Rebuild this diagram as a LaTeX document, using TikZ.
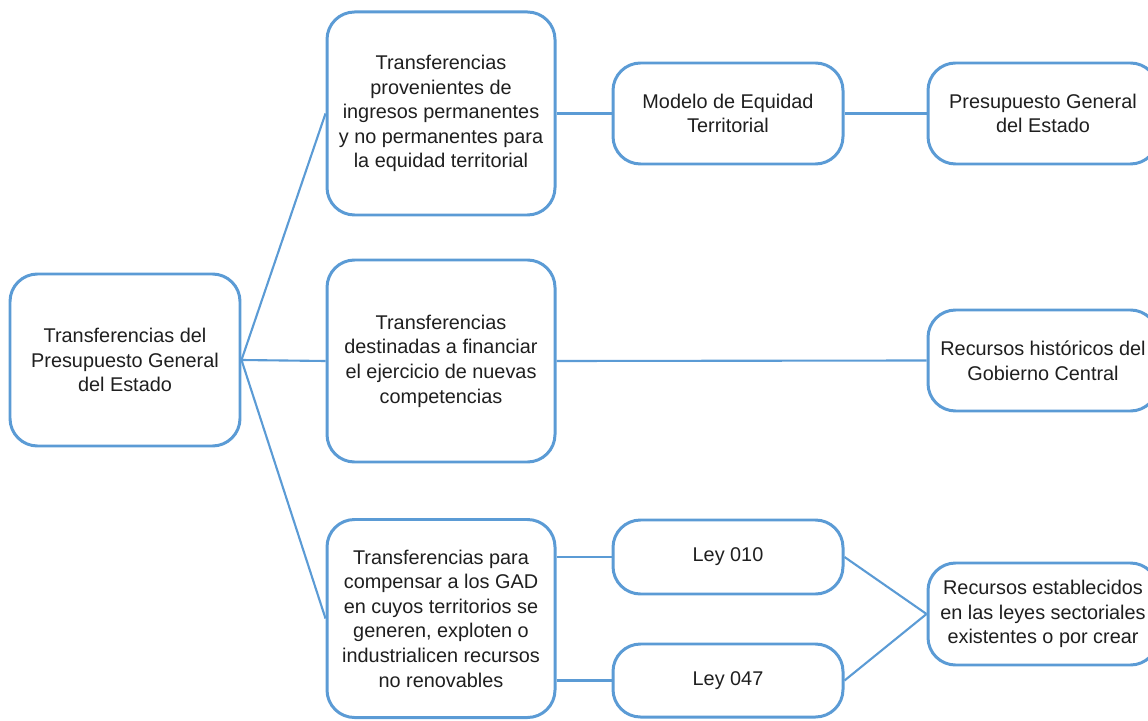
\documentclass[tikz,border=0pt]{standalone}
\usepackage{fontspec}
\setmainfont{Liberation Sans}
\usepackage{tikz}
\usetikzlibrary{positioning, calc}

\definecolor{boxblue}{RGB}{91,155,213}

\begin{document}
\begin{tikzpicture}[
    box/.style={draw=boxblue, line width=1.7pt, rounded corners=0.55cm, fill=white,
        align=center, text=black!88, font=\fontsize{11.3}{14}\selectfont, inner sep=0pt},
    link/.style={draw=boxblue, line width=1.2pt}
]
    \useasboundingbox (0,0) rectangle (22.96,14.4);
    \clip (0,0) rectangle (22.96,14.4);

    % root and first level
    \node[box, minimum width=4.6cm, minimum height=3.44cm] (root) at (2.5,7.2)
        {Transferencias del\\Presupuesto General\\del Estado};
    \node[box, minimum width=4.56cm, minimum height=4.06cm] (perm) at (8.82,12.13)
        {Transferencias\\provenientes de\\ingresos permanentes\\y no permanentes para\\la equidad territorial};
    \node[box, minimum width=4.56cm, minimum height=4.04cm] (comp) at (8.82,7.18)
        {Transferencias\\destinadas a financiar\\el ejercicio de nuevas\\competencias};
    \node[box, minimum width=4.56cm, minimum height=3.96cm] (norenov) at (8.82,2.03)
        {Transferencias para\\compensar a los GAD\\en cuyos territorios se\\generen, exploten o\\industrialicen recursos\\no renovables};

    % second level
    \node[box, minimum width=4.6cm, minimum height=2.02cm] (modelo) at (14.56,12.13)
        {Modelo de Equidad\\Territorial};
    \node[box, minimum width=4.6cm, minimum height=1.48cm] (ley010) at (14.56,3.26) {Ley 010};
    \node[box, minimum width=4.6cm, minimum height=1.46cm] (ley047) at (14.56,0.79) {Ley 047};

    % sources
    \node[box, minimum width=4.6cm, minimum height=2.02cm] (pge) at (20.86,12.13)
        {Presupuesto General\\del Estado};
    \node[box, minimum width=4.6cm, minimum height=2.02cm] (hist) at (20.86,7.19)
        {Recursos históricos del\\Gobierno Central};
    \node[box, minimum width=4.6cm, minimum height=2.04cm] (leyes) at (20.86,2.12)
        {Recursos establecidos\\en las leyes sectoriales\\existentes o por crear};

    % connectors
    \draw[link] (root.east) -- (perm.west);
    \draw[link] (root.east) -- (comp.west);
    \draw[link] (root.east) -- (norenov.west);
    \draw[link] (perm.east) -- (modelo.west);
    \draw[link] (modelo.east) -- (pge.west);
    \draw[link] (comp.east) -- (hist.west);
    \draw[link] (ley010.west -| norenov.east) -- (ley010.west);
    \draw[link] (ley047.west -| norenov.east) -- (ley047.west);
    \draw[link] (ley010.east) -- (leyes.west);
    \draw[link] (ley047.east) -- (leyes.west);
\end{tikzpicture}
\end{document}
